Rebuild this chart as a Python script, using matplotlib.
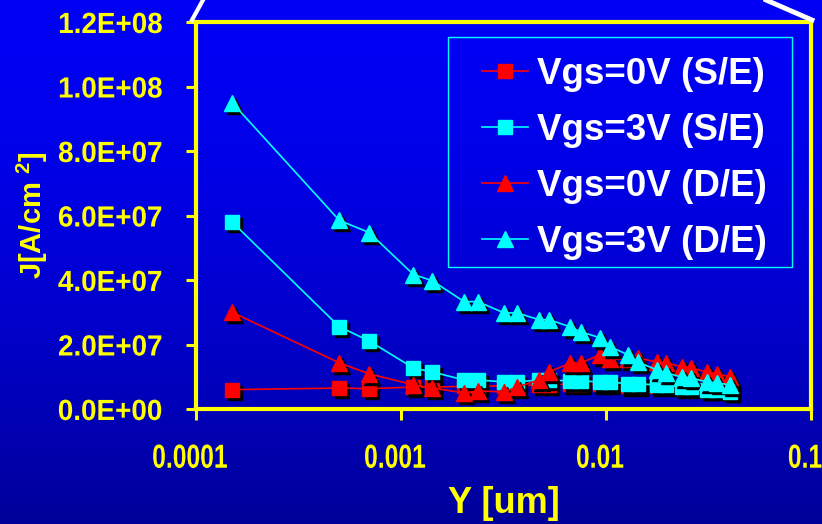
import numpy as np
import matplotlib.pyplot as plt
from matplotlib import transforms, patheffects
from matplotlib.lines import Line2D
from matplotlib.patches import Rectangle
from matplotlib.ticker import NullLocator

# 字体设置
plt.rcParams['font.family'] = ['Liberation Sans']
plt.rcParams['font.weight'] = 'bold'
plt.rcParams['axes.labelweight'] = 'bold'
plt.rcParams['mathtext.fontset'] = 'custom'
plt.rcParams['mathtext.rm'] = 'Liberation Sans:bold'
plt.rcParams['mathtext.bf'] = 'Liberation Sans:bold'
plt.rcParams['mathtext.default'] = 'bf'

# 数据
y_um = [1.5e-4, 5.0e-4, 7.0e-4, 1.15e-3, 1.42e-3, 2.03e-3, 2.37e-3, 3.18e-3,
        3.68e-3, 4.71e-3, 5.27e-3, 6.67e-3, 7.55e-3, 9.35e-3, 1.05e-2, 1.28e-2,
        1.43e-2, 1.77e-2, 1.96e-2, 2.35e-2, 2.6e-2, 3.11e-2, 3.48e-2, 4.03e-2]

j_0v_se = [6.0e6, 6.5e6, 6.3e6, 6.8e6, 6.8e6, 7.0e6, 7.0e6, 7.2e6,
           7.2e6, 7.5e6, 7.5e6, 7.8e6, 7.8e6, 7.6e6, 7.6e6, 7.2e6,
           7.2e6, 7.0e6, 7.0e6, 6.4e6, 6.4e6, 5.8e6, 5.8e6, 5.2e6]
j_3v_se = [5.8e7, 2.55e7, 2.11e7, 1.27e7, 1.15e7, 9.0e6, 9.0e6, 8.4e6,
           8.4e6, 9.0e6, 9.0e6, 8.7e6, 8.7e6, 8.4e6, 8.4e6, 7.8e6,
           7.8e6, 7.5e6, 7.5e6, 6.8e6, 6.8e6, 5.9e6, 5.9e6, 5.3e6]
j_0v_de = [3.0e7, 1.43e7, 1.09e7, 7.5e6, 6.5e6, 5.0e6, 5.6e6, 5.3e6,
           6.8e6, 9.0e6, 1.15e7, 1.42e7, 1.43e7, 1.68e7, 1.55e7, 1.55e7,
           1.58e7, 1.46e7, 1.43e7, 1.31e7, 1.27e7, 1.15e7, 1.09e7, 1.0e7]
j_3v_de = [9.5e7, 5.85e7, 5.47e7, 4.17e7, 3.98e7, 3.33e7, 3.33e7, 2.98e7,
           2.98e7, 2.77e7, 2.77e7, 2.55e7, 2.39e7, 2.21e7, 1.93e7, 1.68e7,
           1.46e7, 1.21e7, 1.12e7, 9.9e6, 9.6e6, 8.4e6, 8.1e6, 7.5e6]

labels = ['Vgs=0V (S/E)', 'Vgs=3V (S/E)', 'Vgs=0V (D/E)', 'Vgs=3V (D/E)']

xtick_vals = [1e-4, 1e-3, 1e-2, 1e-1]
xtick_labels = ['0.0001', '0.001', '0.01', '0.1']
ytick_vals = [0, 2e7, 4e7, 6e7, 8e7, 1e8, 1.2e8]
ytick_labels = ['0.0E+00', '2.0E+07', '4.0E+07', '6.0E+07', '8.0E+07', '1.0E+08', '1.2E+08']


class Narrow(patheffects.AbstractPathEffect):
    """把文字横向压窄（没有 Arial Narrow 字体时的替代）"""
    def __init__(self, sx=0.83, anchor='center', dx=0):
        super().__init__()
        self.sx = sx
        self.anchor = anchor
        self.dx = dx

    def draw_path(self, renderer, gc, tpath, affine, rgbFace=None):
        ext = tpath.get_extents(affine)
        cx = ext.x1 if self.anchor == 'right' else 0.5 * (ext.x0 + ext.x1)
        aff = affine + transforms.Affine2D().translate(-cx, 0).scale(self.sx, 1).translate(cx + self.dx, 0)
        renderer.draw_path(gc, tpath, aff, rgbFace)


W, H = 822, 524
fig = plt.figure(figsize=(W / 100, H / 100), dpi=100)

# 背景渐变
bg = fig.add_axes([0, 0, 1, 1], zorder=-10)
t = np.linspace(0, 1, 256)
img = np.zeros((256, 1, 3))
img[:, 0, 2] = 0.96 - 0.36 * t ** 1.6
bg.imshow(img, aspect='auto', extent=[0, 1, 0, 1])
bg.set_axis_off()

# 幻灯片装饰白线
fig.add_artist(Line2D([192 / W, 203 / W], [1 - 20 / H, 1], color='white', lw=3, transform=fig.transFigure))
fig.add_artist(Line2D([766 / W, 812 / W], [1, 1 - 20 / H], color='white', lw=3.5, transform=fig.transFigure))

ax = fig.add_axes([196 / W, 1 - 409 / H, 615 / W, 387 / H])
ax.set_facecolor('none')

shadow = transforms.offset_copy(ax.transData, fig=fig, x=3, y=-3, units='dots')
series = [
    (j_0v_se, 'red', 's', 10.5),
    (j_3v_se, 'cyan', 's', 10.5),
    (j_0v_de, 'red', '^', 12),
    (j_3v_de, 'cyan', '^', 12),
]
z = 3
for (vals, c, m, ms), lab in zip(series, labels):
    ax.plot(y_um, vals, ls='none', marker=m, ms=ms, mfc='black', mec='black',
            transform=shadow, zorder=z)
    ax.plot(y_um, vals, color=c, lw=1.2, marker=m, ms=ms, mfc=c, mec=c,
            label=lab, zorder=z + 1)
    z += 2

ax.set_xscale('log')
ax.set_xlim(1e-4, 1e-1)
ax.set_ylim(0, 1.2e8)
ax.set_xticks(xtick_vals, xtick_labels)
ax.xaxis.set_minor_locator(NullLocator())
ax.set_yticks(ytick_vals, ytick_labels)

ax.tick_params(axis='both', colors='yellow', width=2.2)
ax.tick_params(axis='x', length=8, pad=17, labelsize=24)
ax.tick_params(axis='y', length=7, pad=17, labelsize=21)
for lbl in ax.get_xticklabels():
    lbl.set_path_effects([Narrow(0.74, 'center', dx=-6)])
for lbl in ax.get_yticklabels():
    lbl.set_path_effects([Narrow(0.955, 'right')])
for s in ax.spines.values():
    s.set_color('yellow')
    s.set_linewidth(3)

ax.set_xlabel('Y [um]', color='yellow', fontsize=26, labelpad=8)
ax.set_ylabel(r'J[A/cm $^{2}$]', color='yellow', fontsize=21)
ax.yaxis.set_label_coords(-0.238, 0.5)

# 图例（框线单独画）
ax.add_patch(Rectangle((0.4098, 0.3669), 0.5593, 0.5943, transform=ax.transAxes,
                       fill=False, edgecolor='cyan', lw=1, zorder=20))
leg = ax.legend(loc='upper left', bbox_to_anchor=(0.465, 0.91), borderaxespad=0,
                borderpad=0, frameon=False, prop={'weight': 'bold', 'size': 26.5},
                labelcolor='white', handlelength=1.25, handletextpad=0.25,
                labelspacing=0.57)

fig.savefig('out.png', dpi=100)
